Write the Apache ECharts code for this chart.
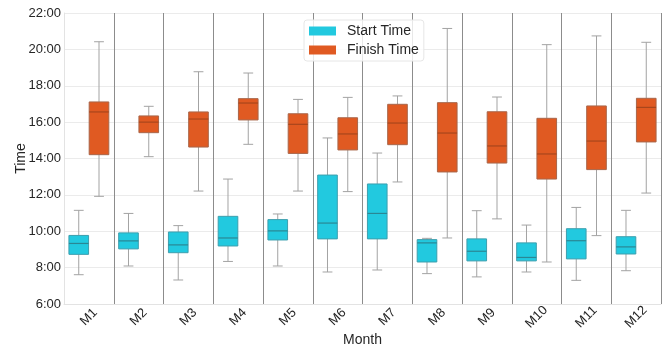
<!DOCTYPE html>
<html>
<head>
<meta charset="utf-8">
<script src="https://cdn.jsdelivr.net/npm/echarts@6/dist/echarts.min.js"></script>
<style>html,body{margin:0;padding:0;background:#fff}#c{width:667px;height:348px}</style>
</head>
<body>
<div id="c"></div>
<script>
const categories = ['M1','M2','M3','M4','M5','M6','M7','M8','M9','M10','M11','M12'];
const yTicks = [6, 8, 10, 12, 14, 16, 18, 20, 22];
// [low, Q1, median, Q3, high] in hours
const startTime = [
  [7.61, 8.73, 9.33, 9.77, 11.15],
  [8.09, 9.03, 9.47, 9.91, 10.98],
  [7.32, 8.82, 9.25, 9.96, 10.31],
  [8.34, 9.19, 9.63, 10.82, 12.87],
  [8.09, 9.52, 10.02, 10.64, 10.95],
  [7.76, 9.58, 10.45, 13.09, 15.13],
  [7.87, 9.58, 10.98, 12.60, 14.30],
  [7.67, 8.31, 9.36, 9.54, 9.61],
  [7.49, 8.37, 8.90, 9.58, 11.13],
  [7.76, 8.37, 8.56, 9.36, 10.34],
  [7.30, 8.48, 9.48, 10.14, 11.31],
  [7.83, 8.75, 9.14, 9.70, 11.15]
];
const finishTime = [
  [11.92, 14.21, 16.56, 17.11, 20.42],
  [14.10, 15.42, 16.00, 16.34, 16.87],
  [12.21, 14.63, 16.17, 16.56, 18.77],
  [14.78, 16.12, 17.05, 17.29, 18.70],
  [12.21, 14.28, 15.88, 16.46, 17.25],
  [12.18, 14.47, 15.35, 16.24, 17.36],
  [12.71, 14.76, 15.95, 16.98, 17.44],
  [9.63, 13.26, 15.40, 17.07, 21.15],
  [10.68, 13.75, 14.69, 16.57, 17.38],
  [8.31, 12.87, 14.25, 16.21, 20.26],
  [9.76, 13.39, 14.96, 16.89, 20.74],
  [12.10, 14.91, 16.81, 17.31, 20.39]
];

function toData(arr) {
  return arr.map((d, i) => [i].concat(d));
}

function makeRender(side, fill, border, medianColor) {
  return function (params, api) {
    const idx = api.value(0);
    const band = api.size([1, 0])[0];
    const w = band * 0.395;
    const cx = api.coord([idx, 0])[0] + side * (w / 2 + 0.3);
    const yLow = api.coord([idx, api.value(1)])[1];
    const yQ1 = api.coord([idx, api.value(2)])[1];
    const yMed = api.coord([idx, api.value(3)])[1];
    const yQ3 = api.coord([idx, api.value(4)])[1];
    const yHigh = api.coord([idx, api.value(5)])[1];
    const cap = w / 4;
    const wh = { stroke: '#a3a3a3', lineWidth: 1 };
    return {
      type: 'group',
      children: [
        { type: 'line', shape: { x1: cx, y1: yQ3, x2: cx, y2: yHigh }, style: wh },
        { type: 'line', shape: { x1: cx, y1: yQ1, x2: cx, y2: yLow }, style: wh },
        { type: 'line', shape: { x1: cx - cap, y1: yHigh, x2: cx + cap, y2: yHigh }, style: wh },
        { type: 'line', shape: { x1: cx - cap, y1: yLow, x2: cx + cap, y2: yLow }, style: wh },
        { type: 'rect', shape: { x: cx - w / 2, y: yQ3, width: w, height: yQ1 - yQ3 },
          style: { fill: fill, stroke: border, lineWidth: 1 } },
        { type: 'line', shape: { x1: cx - w / 2, y1: yMed, x2: cx + w / 2, y2: yMed },
          style: { stroke: medianColor, lineWidth: 1.2 } }
      ]
    };
  };
}

const chart = echarts.init(document.getElementById('c'));
const font = 'Liberation Sans, Arial, sans-serif';
chart.setOption({
  animation: false,
  textStyle: { fontFamily: font },
  grid: { left: 64, right: 6, top: 13, bottom: 44, containLabel: false, outerBoundsMode: 'none' },
  legend: {
    orient: 'vertical',
    left: 304, top: 20,
    padding: [4, 5, 4, 5],
    itemGap: 5,
    itemWidth: 27, itemHeight: 9,
    icon: 'rect',
    backgroundColor: 'rgba(255,255,255,0.8)',
    borderColor: '#e6e6e6', borderWidth: 1, borderRadius: 3,
    textStyle: { fontSize: 14, color: '#262626', fontFamily: font, padding: [0, 0, 0, 6] },
    data: ['Start Time', 'Finish Time']
  },
  xAxis: {
    type: 'category',
    data: categories,
    name: 'Month',
    nameLocation: 'middle',
    nameGap: 29,
    nameMoveOverlap: false,
    nameTextStyle: { fontSize: 14, color: '#262626' },
    axisLine: { show: true, lineStyle: { color: '#e3e3e3' } },
    axisTick: { show: false },
    axisLabel: { rotate: 45, align: 'center', verticalAlign: 'middle', margin: 13, fontSize: 13, color: '#262626' },
    splitLine: { show: true, lineStyle: { color: '#8c8c8c', width: 1 } }
  },
  yAxis: {
    type: 'value',
    min: yTicks[0], max: yTicks[yTicks.length - 1], interval: 2,
    name: 'Time',
    nameLocation: 'middle',
    nameGap: 36,
    nameMoveOverlap: false,
    nameTextStyle: { fontSize: 14, color: '#262626' },
    axisLine: { show: true, lineStyle: { color: '#e3e3e3' } },
    axisTick: { show: false },
    axisLabel: { fontSize: 13, color: '#262626', margin: 3, formatter: v => v + ':00' },
    splitLine: { show: true, lineStyle: { color: '#ebebeb' } }
  },
  series: [
    {
      name: 'Start Time', type: 'custom',
      itemStyle: { color: '#22c9df' },
      renderItem: makeRender(-1, '#22c9df', '#3d9fae', '#2a8794'),
      encode: { x: 0, y: [1, 2, 3, 4, 5] },
      data: toData(startTime)
    },
    {
      name: 'Finish Time', type: 'custom',
      itemStyle: { color: '#e05a22' },
      renderItem: makeRender(1, '#e05a22', '#a8664a', '#a8461c'),
      encode: { x: 0, y: [1, 2, 3, 4, 5] },
      data: toData(finishTime)
    }
  ]
});
</script>
</body>
</html>
